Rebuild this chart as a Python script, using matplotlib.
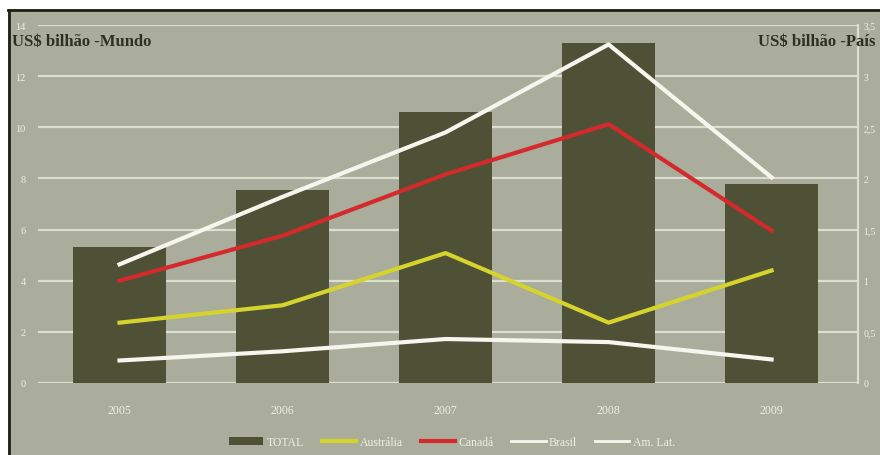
import matplotlib
matplotlib.use("Agg")
import matplotlib.pyplot as plt
from matplotlib.lines import Line2D
from matplotlib.patches import Rectangle, Patch

anos = ["2005", "2006", "2007", "2008", "2009"]
total = [5.3, 7.55, 10.6, 13.3, 7.8]
australia = [0.59, 0.76, 1.27, 0.59, 1.10]
canada = [1.00, 1.44, 2.04, 2.53, 1.49]
brasil = [0.22, 0.31, 0.43, 0.40, 0.23]
am_lat = [1.16, 1.82, 2.45, 3.31, 2.01]

ticks_mundo = [0, 2, 4, 6, 8, 10, 12, 14]
ticks_pais = [0, 0.5, 1, 1.5, 2, 2.5, 3, 3.5]
labels_pais = ["0", "0,5", "1", "1,5", "2", "2,5", "3", "3,5"]

fundo = "#aaad9b"
grade = "#dcdfcf"
barra = "#4e5136"
branco = "#f6f6ee"
texto_tick = "#eeeee4"

plt.rcParams["font.family"] = ["Liberation Serif", "DejaVu Serif"]

fig = plt.figure(figsize=(8.8, 4.56), dpi=100, facecolor=fundo)
ax = fig.add_axes([38 / 880, 72 / 456, 820 / 880, 358 / 456])
ax.set_facecolor(fundo)

x = list(range(len(anos)))
ax.bar(x, total, width=0.57, color=barra, zorder=2)
ax.set_xlim(-0.5, 4.53)
ax.set_ylim(0, 14)
ax.set_yticks(ticks_mundo)
ax.set_xticks(x)
ax.set_xticklabels(anos)
ax.grid(axis="y", color=grade, linewidth=1.6, zorder=1)
for s in ax.spines.values():
    s.set_visible(False)
ax.tick_params(axis="y", length=0, pad=9, labelsize=7.5, labelcolor=texto_tick)
ax.tick_params(axis="x", length=0, pad=15, labelsize=8.5, labelcolor=texto_tick)

ax2 = ax.twinx()
ax2.set_ylim(0, 3.5)
ax2.set_yticks(ticks_pais)
ax2.set_yticklabels(labels_pais)
for s in ax2.spines.values():
    s.set_visible(False)
ax2.spines["right"].set_visible(True)
ax2.spines["right"].set_color(grade)
ax2.spines["right"].set_linewidth(1.6)
ax2.tick_params(axis="y", length=0, pad=4, labelsize=7, labelcolor=texto_tick)

ax2.plot(x, australia, color="#d6d42c", linewidth=3, zorder=3)
ax2.plot(x, canada, color="#d42a2c", linewidth=3, zorder=3)
ax2.plot(x, brasil, color=branco, linewidth=3, zorder=3)
ax2.plot(x, am_lat, color=branco, linewidth=3, zorder=3)

fig.text(12 / 880, 1 - 42 / 456, "US$ bilhão -Mundo", fontsize=12, fontweight="bold",
         color="#2e3020", va="center", ha="left")
fig.text(758 / 880, 1 - 42 / 456, "US$ bilhão -País", fontsize=12, fontweight="bold",
         color="#2e3020", va="center", ha="left")

handles = [
    Patch(facecolor=barra, edgecolor="none"),
    Line2D([], [], color="#d6d42c", linewidth=3),
    Line2D([], [], color="#d42a2c", linewidth=3),
    Line2D([], [], color=branco, linewidth=2),
    Line2D([], [], color=branco, linewidth=2),
]
nomes = ["TOTAL", "Austrália", "Canadá", "Brasil", "Am. Lat."]
leg = fig.legend(handles, nomes, loc="center", bbox_to_anchor=(452 / 880, 13 / 456), ncol=5,
                 frameon=False, fontsize=8.5, handlelength=2.9, handletextpad=0.3,
                 columnspacing=1.5)
for t in leg.get_texts():
    t.set_color(texto_tick)

# moldura: faixa branca no topo e borda escura
fig.patches.append(Rectangle((0, 1 - 10 / 456), 1, 10 / 456, transform=fig.transFigure,
                             facecolor="white", edgecolor="none", zorder=0))
fig.patches.append(Rectangle((0, 0), 8 / 880, 1, transform=fig.transFigure,
                             facecolor="white", edgecolor="none", zorder=0))
fig.lines.append(Line2D([8 / 880, 1], [1 - 11 / 456, 1 - 11 / 456], transform=fig.transFigure,
                        color="#1e2014", linewidth=2))
fig.lines.append(Line2D([9 / 880, 9 / 880], [0, 1 - 11 / 456], transform=fig.transFigure,
                        color="#1e2014", linewidth=2))

fig.savefig("out.png", dpi=100, facecolor=fundo)
